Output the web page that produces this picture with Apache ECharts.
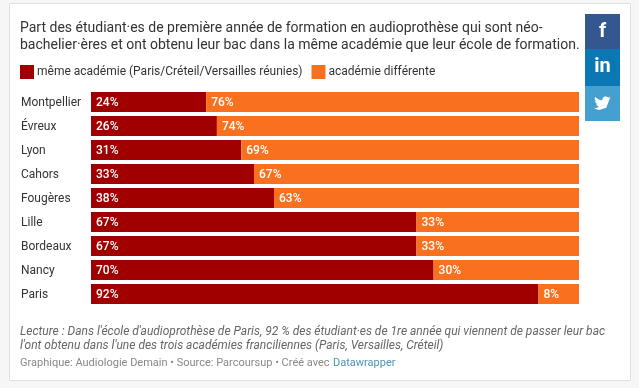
<!DOCTYPE html>
<html><head><meta charset="utf-8">
<style>html,body{margin:0;padding:0;background:#f6f6f6}#c{width:639px;height:388px}</style>
<script src="https://cdn.jsdelivr.net/npm/echarts@6/dist/echarts.min.js"></script>
</head><body><div id="c"></div>
<script>
const categories=["Montpellier","Évreux","Lyon","Cahors","Fougères","Lille","Bordeaux","Nancy","Paris"];
const sameAcademy=[23.6,25.8,30.8,33.4,37.5,66.7,66.7,70.2,91.7];
const otherAcademy=[76.4,74.2,69.2,66.6,62.5,33.3,33.3,29.8,8.3];
const seriesNames=["même académie (Paris/Créteil/Versailles réunies)","académie différente"];
const titleLines=["Part des étudiant·es de première année de formation en audioprothèse qui sont néo-","bachelier·ères et ont obtenu leur bac dans la même académie que leur école de formation."];
const noteLines=["Lecture : Dans l'école d'audioprothèse de Paris, 92 % des étudiant·es de 1re année qui viennent de passer leur bac","l'ont obtenu dans l'une des trois académies franciliennes (Paris, Versailles, Créteil)"];
const F="Roboto";
const chart=echarts.init(document.getElementById('c'),null,{renderer:'canvas'});
const lab={show:true,position:'insideLeft',distance:5,offset:[0,1],color:'#fff',fontFamily:F,fontSize:12,fontWeight:500,formatter:p=>Math.round(p.value)+'%'};
const txt=(x,y,t,size,color,extra)=>({type:'text',z:10,x,y,style:Object.assign({text:t,font:`${size}px ${F}`,fill:color,textVerticalAlign:'middle'},extra||{})});
const birdOutline=[[23,3.9],[20.4,4.6],[22.400,2.100],[19.500,3.200],[16.100,1.800],[13,3],[11.500,6.400],[11.600,7.400],[7,6],[2.100,2.600],[1.500,4.900],[3.500,8.700],[1.400,8.100],[1.400,8.200],[5.100,12.700],[3,12.800],[7.200,16.100],[1.500,18.100],[.4,18],[7.500,20.100],[17,17],[20.600,7.500],[20.600,6.900],[23,3.9]];
chart.setOption({
 animation:false,
 backgroundColor:'#f6f6f6',
 grid:{left:91,top:90,width:488,height:216,containLabel:false},
 xAxis:{type:'value',min:0,max:100,show:false},
 yAxis:{type:'category',data:categories,inverse:true,axisLine:{show:false},axisTick:{show:false},
   axisLabel:{align:'left',margin:70,formatter:v=>`{a|${v}}`,rich:{a:{color:'#333',fontFamily:F,fontSize:12,padding:[2,0,0,0]}}}},
 legend:{left:15,top:63,padding:[2,5],itemWidth:14,itemHeight:14,itemGap:9,icon:'rect',
   textStyle:{color:'#333',fontFamily:F,fontSize:12,padding:[0,0,0,-2]}},
 series:[
  {name:seriesNames[0],type:'bar',stack:'a',data:sameAcademy,barWidth:20,itemStyle:{color:'#a00000'},label:lab},
  {name:seriesNames[1],type:'bar',stack:'a',data:otherAcademy,barWidth:20,itemStyle:{color:'#f9711f'},label:lab}
 ],
 graphic:[
  {type:'rect',z:-1,silent:true,shape:{x:9.5,y:3.5,width:621,height:377},style:{fill:'#fff',stroke:'#e0e0e0',lineWidth:1}},
  txt(20,28,titleLines[0],14,'#333'),
  txt(20,45,titleLines[1],14,'#333'),
  txt(20,331.500,noteLines[0],12,'#666',{font:`italic 12px ${F}`}),
  txt(20,345.500,noteLines[1],12,'#666',{font:`italic 12px ${F}`}),
  txt(20,363,"Graphique: Audiologie Demain • Source: Parcoursup • Créé avec ",11,'#888'),
  txt(333,363,"Datawrapper",11,'#4a94b5'),
  {type:'rect',z:5,shape:{x:585,y:14,width:35,height:35},style:{fill:'#35578f'}},
  {type:'rect',z:5,shape:{x:585,y:49,width:35,height:37},style:{fill:'#0b77b3'}},
  {type:'rect',z:5,shape:{x:585,y:86,width:35,height:35},style:{fill:'#46a0cf'}},
  {type:'text',z:10,x:602.500,y:32,style:{text:'f',font:`bold 20px ${F}`,fill:'#fff',textAlign:'center',textVerticalAlign:'middle'}},
  {type:'text',z:10,x:602.500,y:67,style:{text:'in',font:`bold 20px ${F}`,fill:'#fff',textAlign:'center',textVerticalAlign:'middle'}},
  {type:'polygon',z:10,x:593.500,y:95,scaleX:.75,scaleY:.75,shape:{points:birdOutline},style:{fill:'#fff'}}
 ]
});
</script></body></html>
